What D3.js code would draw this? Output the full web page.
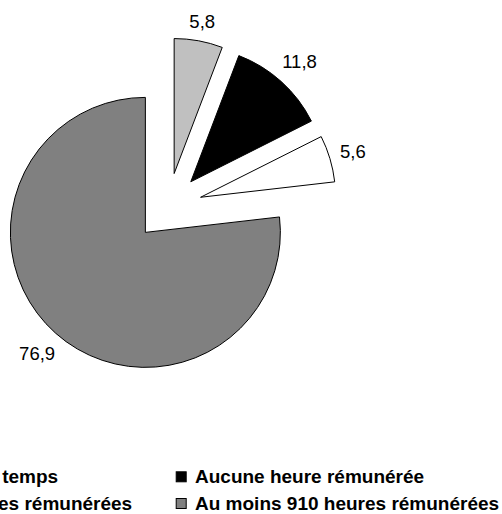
<!DOCTYPE html>
<html><head><meta charset="utf-8">
<script src="https://cdn.jsdelivr.net/npm/d3@7"></script>
<style>
html,body{margin:0;padding:0;background:#fff;overflow:hidden;}
svg{display:block;font-family:"Liberation Sans",Arial,sans-serif;}
</style></head>
<body>
<script>
// Data
const categories = ["Étudiant tout le temps", "Aucune heure rémunérée", "De 1 à 909 heures rémunérées", "Au moins 910 heures rémunérées"];
const values = [5.8, 11.8, 5.6, 76.9];
const valueLabels = ["5,8", "11,8", "5,6", "76,9"];
const colors = ["#C0C0C0", "#000000", "#FFFFFF", "#808080"];

const W = 502, H = 514;
const cx = 168, cy = 207, R = 135, explode = 34;
const labelFont = 18.5, legendFont = 19;

const svg = d3.select("body").append("svg").attr("width", W).attr("height", H);

const pie = d3.pie().sort(null).value(d => d)(values);
const arc = d3.arc().innerRadius(0).outerRadius(R);

const g = svg.append("g").attr("transform", `translate(${cx},${cy})`);

pie.forEach((p, i) => {
  const mid = (p.startAngle + p.endAngle) / 2;
  const ox = Math.sin(mid) * explode, oy = -Math.cos(mid) * explode;
  const sg = g.append("g").attr("transform", `translate(${ox},${oy})`);
  sg.append("path").attr("d", arc(p)).attr("fill", colors[i])
    .attr("stroke", "#000").attr("stroke-width", 1).attr("stroke-linejoin", "miter");
  const t = sg.append("text").text(valueLabels[i])
    .attr("font-size", labelFont).attr("fill", "#000").attr("text-anchor", "middle");
  const w = t.node().getComputedTextLength();
  const h = 18;
  const s = Math.sin(mid), c = Math.cos(mid);
  const dist = R + 9 + Math.abs(s) * w / 2 + Math.abs(c) * h / 2;
  t.attr("x", s * dist).attr("y", -c * dist + 0.358 * labelFont);
});

// Legend (two columns, row-major)
const colX = [-160.7, 175.7];
const rowY = [483.3, 510];
const leg = svg.append("g");
categories.forEach((name, i) => {
  const col = i % 2, row = Math.floor(i / 2);
  const x = colX[col], y = rowY[row];
  leg.append("rect").attr("x", x + 0.5).attr("y", y - 11.5).attr("width", 10).attr("height", 10)
    .attr("fill", colors[i]).attr("stroke", "#000").attr("stroke-width", 1);
  leg.append("text").attr("x", x + 19.3).attr("y", y).text(name)
    .attr("font-size", legendFont).attr("font-weight", "bold").attr("fill", "#000");
});
</script>
</body></html>
